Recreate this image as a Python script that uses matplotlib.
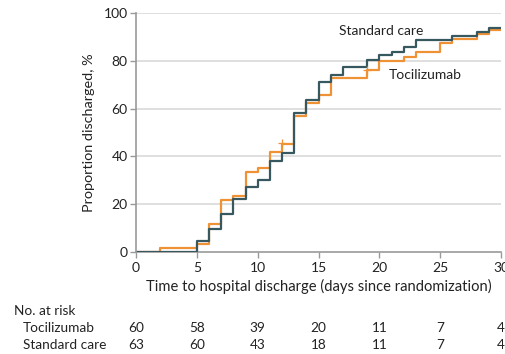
import matplotlib
matplotlib.use("Agg")
import matplotlib.pyplot as plt

plt.rcParams['font.family'] = ['Lato', 'DejaVu Sans']

# Kaplan-Meier style cumulative discharge curves (percent discharged by day)
toc_days = [0, 2, 5, 6, 7, 8, 9, 10, 11, 12, 13, 14, 15, 16, 19, 20, 22, 23, 25, 26, 28, 29, 30]
toc_pct = [0, 1.7, 3.4, 11.7, 21.8, 23.3, 33.4, 35.2, 41.7, 45.1, 57.0, 62.5, 65.8, 72.7,
           76.2, 80.0, 81.7, 83.5, 87.3, 89.0, 91.2, 92.9, 92.9]

std_days = [0, 5, 6, 7, 8, 9, 10, 11, 12, 13, 14, 15, 16, 17, 19, 20, 21, 22, 23, 26, 28, 29, 30]
std_pct = [0, 4.8, 9.5, 15.9, 22.2, 27.0, 30.2, 38.1, 41.3, 58.3, 63.5, 71.0, 74.2, 77.4,
           80.5, 82.4, 83.8, 85.6, 88.7, 90.5, 91.9, 93.9, 93.9]

# censored observations in the tocilizumab arm
toc_cens_days = [12, 19]
toc_cens_pct = [45.6, 76.2]

x_ticks = [0, 5, 10, 15, 20, 25, 30]
y_ticks = [0, 20, 40, 60, 80, 100]
risk_groups = ["Tocilizumab", "Standard care"]
risk_toc = [60, 58, 39, 20, 11, 7, 4]
risk_std = [63, 60, 43, 18, 11, 7, 4]

c_toc = '#ef9236'
c_std = '#385860'
grey = '#9a9a9a'
ink = '#222222'

fig = plt.figure(figsize=(5.06, 3.54), dpi=100)
ax = fig.add_axes([136 / 506, 1 - 252 / 354, 365 / 506, 239 / 354])

for yv in y_ticks[1:]:
    ax.axhline(yv, color='#dcdcdc', lw=1.3, zorder=0)

ax.step(std_days, std_pct, where='post', color=c_std, lw=1.6, zorder=3)
ax.step(toc_days, toc_pct, where='post', color=c_toc, lw=1.6, zorder=2)
ax.plot(toc_cens_days, toc_cens_pct, linestyle='none', marker='+', ms=6, mew=0.9,
        color=c_toc, zorder=4)

ax.set_xlim(0, 30)
ax.set_ylim(0, 100)
ax.set_xticks(x_ticks)
ax.set_yticks(y_ticks)
ax.tick_params(axis='both', colors=grey, labelcolor=ink, labelsize=10,
               length=4, width=1)
ax.tick_params(axis='x', pad=3)
ax.tick_params(axis='y', pad=2)
for s in ['top', 'right']:
    ax.spines[s].set_visible(False)
for s in ['left', 'bottom']:
    ax.spines[s].set_color(grey)
    ax.spines[s].set_linewidth(1.2)
ax.spines['left'].set_zorder(5)

ax.set_xlabel('Time to hospital discharge (days since randomization)', fontsize=10.6,
              color=ink, labelpad=4)
ax.set_ylabel('Proportion discharged, %', fontsize=10.4, color=ink, labelpad=6)

ax.text(16.7, 92.5, 'Standard care', fontsize=10, color=ink, ha='left', va='center', zorder=6)
ax.text(20.8, 74.0, 'Tocilizumab', fontsize=10, color=ink, ha='left', va='center', zorder=6)

# number-at-risk table
fig.text(14 / 506, 1 - 311 / 354, 'No. at risk', fontsize=9.8, color=ink, va='center')
for row_y, name, vals in [(328, risk_groups[0], risk_toc), (345, risk_groups[1], risk_std)]:
    fig.text(23 / 506, 1 - row_y / 354, name, fontsize=9.8, color=ink, va='center')
    for xv, v in zip(x_ticks, vals):
        xf = ax.transData.transform((xv, 0))[0] / fig.bbox.width
        fig.text(xf, 1 - row_y / 354, str(v), fontsize=9.8, color=ink,
                 ha='center', va='center')

fig.savefig('out.png', dpi=100)
